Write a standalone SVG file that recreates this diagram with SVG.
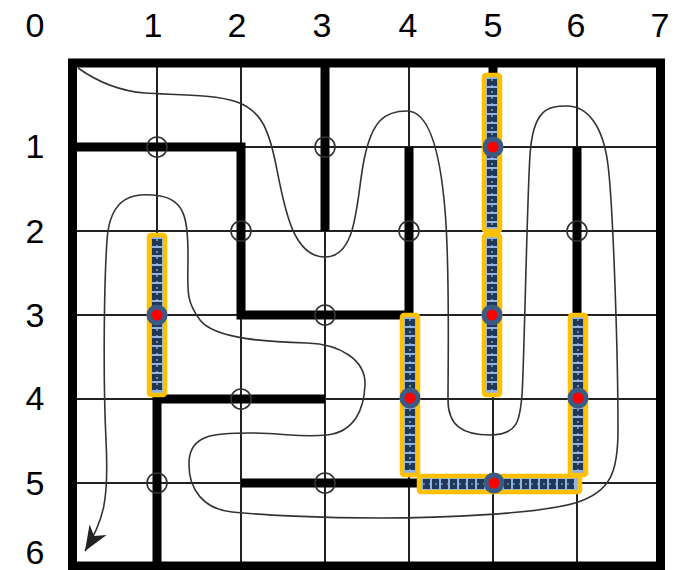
<svg xmlns="http://www.w3.org/2000/svg" width="681" height="570" viewBox="0 0 681 570">
<style>
.lbl{font-family:"Liberation Sans",Arial,sans-serif;font-size:34px;fill:#000;text-anchor:middle}
.grid{stroke:#222;stroke-width:2;fill:none}
.wall{stroke:#000;stroke-width:9;fill:none;stroke-linejoin:miter;stroke-linecap:butt}
.oc{fill:none;stroke:#333;stroke-width:1.6}
.hy{fill:#8fb4e3;stroke:#ffc000;stroke-width:4.5}
.hd{stroke:#1f3859;stroke-width:10;stroke-dasharray:7 2;fill:none}
.hc{stroke:#9fc2ea;stroke-width:1.2;stroke-dasharray:2 4;fill:none}
.nb{fill:#3b5b87}
.nr{fill:#ff0000}
.curve{fill:none;stroke:#333;stroke-width:1.6}
</style>
<defs>
<marker id="arr" markerUnits="userSpaceOnUse" markerWidth="30" markerHeight="30" viewBox="-22 -10 24 20" refX="0" refY="0" orient="auto">
<path d="M0,0 L-20,-8 L-14,0 L-20,8 Z" fill="#222"/>
</marker>
</defs>
<rect width="681" height="570" fill="#fff"/>
<g id="labels">
<text class="lbl" x="35" y="37">0</text>
<text class="lbl" x="153" y="37">1</text>
<text class="lbl" x="237" y="37">2</text>
<text class="lbl" x="322" y="37">3</text>
<text class="lbl" x="408" y="37">4</text>
<text class="lbl" x="493" y="37">5</text>
<text class="lbl" x="576" y="37">6</text>
<text class="lbl" x="660" y="37">7</text>
<text class="lbl" x="35" y="158">1</text>
<text class="lbl" x="35" y="243">2</text>
<text class="lbl" x="35" y="327">3</text>
<text class="lbl" x="35" y="410">4</text>
<text class="lbl" x="35" y="495">5</text>
<text class="lbl" x="35" y="564">6</text>
</g>
<g id="grid">
<path class="grid" d="M157,63V566M241,63V566M325,63V566M409,63V566M493,63V566M577,63V566M73,147H661M73,231H661M73,315H661M73,399H661M73,483H661"/>
</g>
<g id="walls">
<rect class="wall" x="72.5" y="63" width="588" height="503"/>
<path class="wall" d="M73,147H241V315H409V147"/>
<path class="wall" d="M325,63V231"/>
<path class="wall" d="M577,147V315"/>
<path class="wall" d="M325,399H157V566"/>
<path class="wall" d="M241,483H417"/>
<path class="wall" d="M493,63V76"/>
</g>
<g id="open-circles">
<circle class="oc" cx="157" cy="147" r="10"/>
<circle class="oc" cx="325" cy="147" r="10"/>
<circle class="oc" cx="241" cy="231" r="10"/>
<circle class="oc" cx="409" cy="231" r="10"/>
<circle class="oc" cx="577" cy="231" r="10"/>
<circle class="oc" cx="325" cy="315" r="10"/>
<circle class="oc" cx="241" cy="399" r="10"/>
<circle class="oc" cx="157" cy="483" r="10"/>
<circle class="oc" cx="325" cy="483" r="10"/>
</g>
<g id="connectors">
<path class="curve" marker-end="url(#arr)" d="M78,68 C95,80 118,91 145,93 S215,94 237,102 S268,125 276,165 S292,257 325,257 S356,200 364,160 S385,111 407,111 S440,150 445,210 S448,360 448,400 C448,425 462,435 490,435 S520,420 522,395 S527,200 530,155 S547,106 567,106 S603,125 608,165 S618,350 618,430 C618,470 612,492 575,503 S440,518 380,518 S260,515 232,512 S188,490 189,462 S215,433 250,433 S300,438 327,435 S364,410 365,385 S340,344 307,343 S215,340 200,320 S188,290 188,255 S185,200 160,196 S110,195 107,240 S103,380 106,440 S104,520 85,551"/>
</g>
<g id="highlights">
<g id="h6"><rect class="hy" x="419" y="476" width="161" height="16" rx="2"/><line class="hd" x1="423" y1="484" x2="576" y2="484"/><line class="hc" x1="423" y1="484" x2="576" y2="484"/></g>
<g id="h1"><rect class="hy" x="484" y="75" width="16" height="156" rx="2"/><line class="hd" x1="492" y1="79" x2="492" y2="227"/><line class="hc" x1="492" y1="79" x2="492" y2="227"/></g>
<g id="h2"><rect class="hy" x="484" y="235" width="16" height="160" rx="2"/><line class="hd" x1="492" y1="239" x2="492" y2="391"/><line class="hc" x1="492" y1="239" x2="492" y2="391"/></g>
<g id="h3"><rect class="hy" x="149" y="235" width="16" height="160" rx="2"/><line class="hd" x1="157" y1="239" x2="157" y2="391"/><line class="hc" x1="157" y1="239" x2="157" y2="391"/></g>
<g id="h4"><rect class="hy" x="402" y="315" width="16" height="160" rx="2"/><line class="hd" x1="410" y1="319" x2="410" y2="471"/><line class="hc" x1="410" y1="319" x2="410" y2="471"/></g>
<g id="h5"><rect class="hy" x="570" y="315" width="16" height="160" rx="2"/><line class="hd" x1="578" y1="319" x2="578" y2="471"/><line class="hc" x1="578" y1="319" x2="578" y2="471"/></g>
</g>
<g id="nodes">
<g id="n51"><circle class="nb" cx="493" cy="147" r="10.5"/><circle class="nr" cx="493" cy="147" r="5.5"/></g>
<g id="n13"><circle class="nb" cx="157" cy="315" r="10.5"/><circle class="nr" cx="157" cy="315" r="5.5"/></g>
<g id="n53"><circle class="nb" cx="492" cy="315" r="10.5"/><circle class="nr" cx="492" cy="315" r="5.5"/></g>
<g id="n44"><circle class="nb" cx="410" cy="398" r="10.5"/><circle class="nr" cx="410" cy="398" r="5.5"/></g>
<g id="n64"><circle class="nb" cx="578" cy="398" r="10.5"/><circle class="nr" cx="578" cy="398" r="5.5"/></g>
<g id="n55"><circle class="nb" cx="494" cy="483" r="10.5"/><circle class="nr" cx="494" cy="483" r="5.5"/></g>
</g>
</svg>
